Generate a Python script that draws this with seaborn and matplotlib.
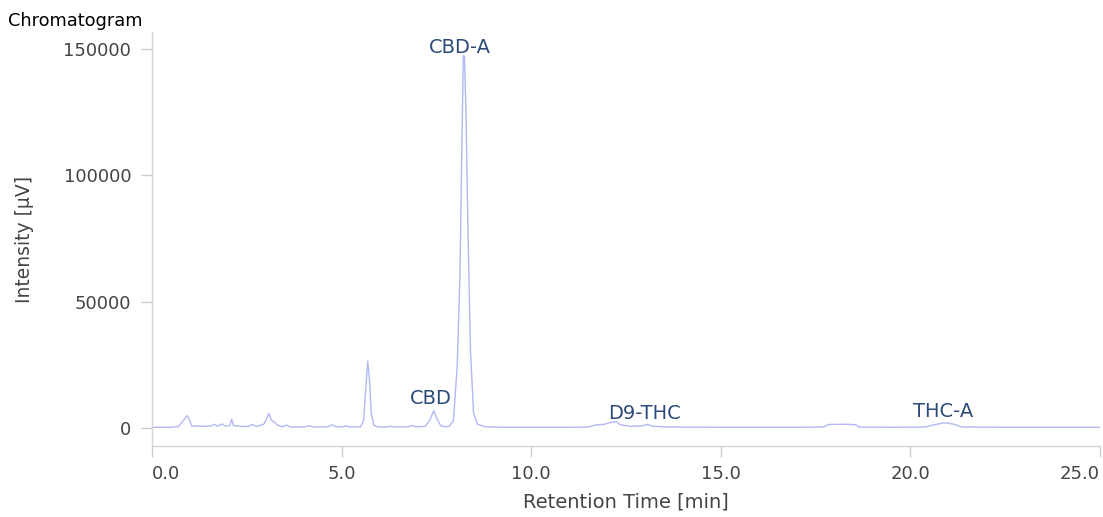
import matplotlib
matplotlib.use("Agg")
import matplotlib.pyplot as plt
import seaborn as sns

# Chromatogram trace (retention time in min, intensity in uV)
retention_time = [
    0.0, 0.5, 0.70, 0.80, 0.88, 0.93, 0.98, 1.05, 1.3, 1.55, 1.65, 1.72, 1.85, 1.92,
    2.05, 2.10, 2.15, 2.4, 2.55, 2.65, 2.75, 2.95, 3.02, 3.08, 3.15, 3.22, 3.30, 3.45,
    3.55, 3.65, 4.0, 4.15, 4.25, 4.65, 4.75, 4.85, 5.05, 5.12, 5.2, 5.50, 5.58, 5.63,
    5.69, 5.74, 5.78, 5.85, 5.95, 6.2, 6.3, 6.4, 6.75, 6.85, 6.95, 7.2, 7.32, 7.43,
    7.52, 7.62, 7.75, 7.85, 7.95, 8.05, 8.12, 8.16, 8.21, 8.24, 8.28, 8.33, 8.40, 8.48,
    8.58, 8.70, 8.8, 9.2, 10.0, 11.0, 11.5, 11.7, 11.9, 12.1, 12.25, 12.35, 12.6, 12.9,
    13.07, 13.2, 13.6, 15.0, 17.0, 17.7, 17.85, 18.3, 18.55, 18.65, 19.5, 20.4, 20.6,
    20.9, 21.15, 21.35, 22.5, 25.0,
]
intensity = [
    300, 300, 600, 2500, 4000, 4900, 3500, 800, 700, 800, 1500, 700, 1600, 800,
    900, 3500, 1000, 600, 700, 1400, 600, 1500, 3500, 5800, 3000, 2500, 1200, 500,
    1200, 400, 400, 900, 400, 500, 1300, 500, 500, 900, 400, 500, 3000, 14000,
    26500, 18000, 6000, 1200, 400, 400, 700, 400, 500, 1000, 500, 600, 3000, 6800,
    3500, 800, 500, 800, 3000, 25000, 60000, 100000, 147500, 147000, 125000, 80000, 30000, 6000,
    1500, 900, 500, 300, 300, 300, 400, 1200, 1400, 2200, 2500, 1300, 700, 800,
    1400, 700, 400, 300, 300, 400, 1400, 1500, 1300, 400, 300, 400, 1200,
    2100, 1500, 400, 300, 300,
]

# Peak names and where their labels sit
peak_names = ["CBD-A", "CBD", "D9-THC", "THC-A"]
peak_label_x = [8.13, 7.34, 13.0, 20.86]
peak_label_y = [150800, 11500, 5900, 6700]

x_ticks = [0, 5, 10, 15, 20, 25]
x_tick_labels = ["0.0", "5.0", "10.0", "15.0", "20.0", "25.0"]
y_ticks = [0, 50000, 100000, 150000]

sns.set_style("white")
plt.rcParams['font.family'] = ['DejaVu Sans']

fig = plt.figure(figsize=(11.03, 5.17), dpi=100)
ax = fig.add_axes([0.1378, 0.1373, 0.8595, 0.8007])

sns.lineplot(x=retention_time, y=intensity, color="#b4b8f4", linewidth=1.0, ax=ax, sort=False)

for name, lx, ly in zip(peak_names, peak_label_x, peak_label_y):
    ax.text(lx, ly, name, ha="center", va="center", fontsize=14, color="#2c4a78")

ax.set_xlim(0, 25)
ax.set_ylim(-7124, 156737)
ax.set_xticks(x_ticks)
ax.set_xticklabels(x_tick_labels)
ax.set_yticks(y_ticks)

for side in ["top", "right"]:
    ax.spines[side].set_visible(False)
for side in ["left", "bottom"]:
    ax.spines[side].set_color("#d4d4d4")
    ax.spines[side].set_linewidth(1.0)

# seaborn's white style hides tick marks, turn them back on
ax.tick_params(axis="both", bottom=True, left=True, colors="#cccccc", length=8, width=1,
               labelcolor="#444444", labelsize=13)
ax.tick_params(axis="x", pad=6)
ax.tick_params(axis="y", pad=7)

# first and last x labels are kept inside the plot width
xlabels = ax.get_xticklabels()
xlabels[0].set_ha("left")
xlabels[-1].set_ha("right")

ax.set_xlabel("Retention Time [min]", fontsize=14, color="#444444")
ax.set_ylabel("Intensity [μV]", fontsize=13.5, color="#444444")
ax.xaxis.label.set_va("center")
ax.yaxis.label.set_va("center")
ax.xaxis.set_label_coords(0.5, -0.135)
ax.yaxis.set_label_coords(-0.135, 0.5)

fig.text(0.007, 0.959, "Chromatogram", fontsize=12.8, color="black", va="center", ha="left")

fig.savefig("out.png", dpi=100)
